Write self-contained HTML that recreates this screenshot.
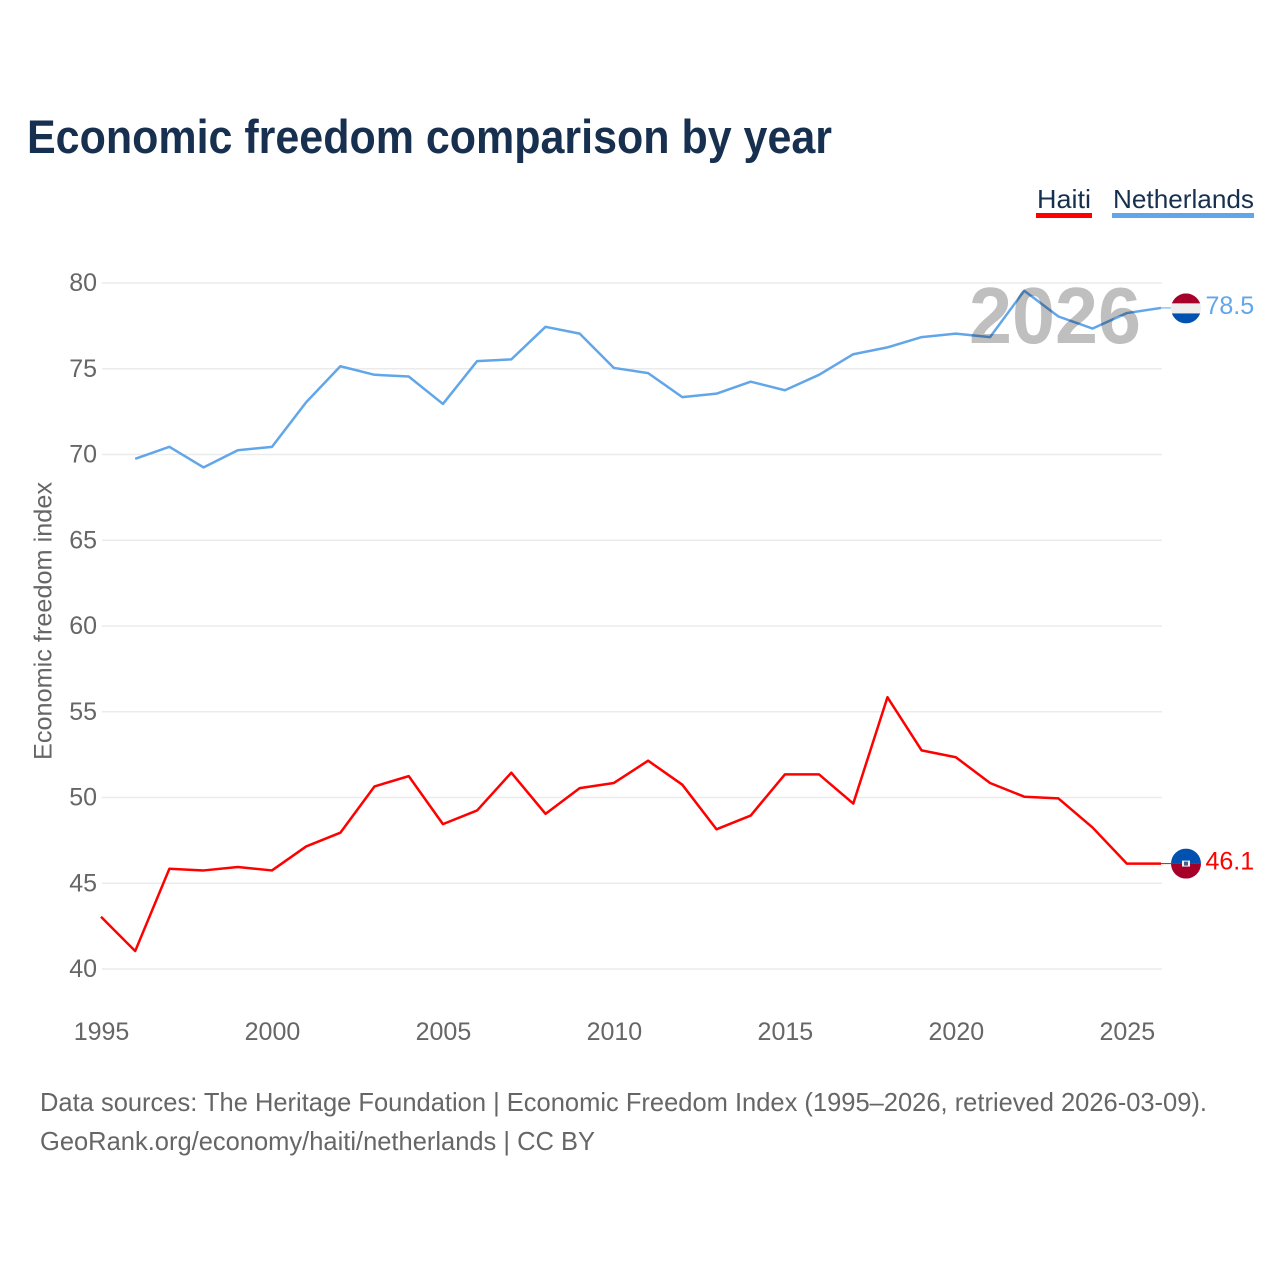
<!DOCTYPE html>
<html lang="en">
<head>
<meta charset="utf-8">
<title>Economic freedom comparison by year</title>
<style>
  html, body { margin: 0; padding: 0; background: #fff; }
  svg { display: block; font-family: "Liberation Sans", sans-serif; }
</style>
</head>
<body>
<svg id="chart" width="1280" height="1280" viewBox="0 0 1280 1280" xmlns="http://www.w3.org/2000/svg">
  <rect x="0" y="0" width="1280" height="1280" fill="#ffffff"/>
  <text x="27" y="153" font-size="47" font-weight="700" fill="#18304f" textLength="805" lengthAdjust="spacingAndGlyphs">Economic freedom comparison by year</text>

  <g>
    <g>
      <text x="1037" y="208" font-size="26" fill="#18304f" textLength="54" lengthAdjust="spacingAndGlyphs">Haiti</text>
      <rect x="1036" y="213" width="56" height="5" fill="#ff0000"/>
    </g>
    <g>
      <text x="1113" y="208" font-size="26" fill="#18304f" textLength="141" lengthAdjust="spacingAndGlyphs">Netherlands</text>
      <rect x="1112" y="213" width="142" height="5" fill="#62a6ea"/>
    </g>
  </g>

  <text transform="translate(51.5 621) rotate(-90)" text-anchor="middle" font-size="25" fill="#666666" textLength="278" lengthAdjust="spacingAndGlyphs">Economic freedom index</text>

  <g id="grid"></g>
  <g id="yticks"></g>
  <g id="xticks"></g>
  <g id="series" transform="translate(-1 -0.8)"></g>

  <text id="year" x="969" y="343" font-size="80" font-weight="700" fill="#000000" fill-opacity="0.25" textLength="172" lengthAdjust="spacingAndGlyphs">2026</text>

  <g id="ends"></g>

  <text x="40" y="1111" font-size="26" fill="#666666" textLength="1167" lengthAdjust="spacingAndGlyphs">Data sources: The Heritage Foundation | Economic Freedom Index (1995–2026, retrieved 2026-03-09).</text>
  <text x="40" y="1150" font-size="26" fill="#666666" textLength="555" lengthAdjust="spacingAndGlyphs">GeoRank.org/economy/haiti/netherlands | CC BY</text>
</svg>

<script>
const years = [1995,1996,1997,1998,1999,2000,2001,2002,2003,2004,2005,2006,2007,2008,2009,2010,2011,2012,2013,2014,2015,2016,2017,2018,2019,2020,2021,2022,2023,2024,2025,2026];
const haitiValues = [43.0,41.0,45.8,45.7,45.9,45.7,47.1,47.9,50.6,51.2,48.4,49.2,51.4,49.0,50.5,50.8,52.1,50.7,48.1,48.9,51.3,51.3,49.6,55.8,52.7,52.3,50.8,50.0,49.9,48.2,46.1,46.1];
const netherlandsValues = [null,69.7,70.4,69.2,70.2,70.4,73.0,75.1,74.6,74.5,72.9,75.4,75.5,77.4,77.0,75.0,74.7,73.3,73.5,74.2,73.7,74.6,75.8,76.2,76.8,77.0,76.8,79.5,78.0,77.3,78.2,78.5];
const yTickLabels = [40,45,50,55,60,65,70,75,80];
const xTickLabels = [1995,2000,2005,2010,2015,2020,2025];

const NS = 'http://www.w3.org/2000/svg';
const xAxis = function (year) { return 102 + (year - 1995) * (1162 - 102) / (2026 - 1995); };
const yAxis = function (value) { return 969 - (value - 40) * (969 - 283) / (80 - 40); };
const make = function (tag, parent, attrs) {
  const el = document.createElementNS(NS, tag);
  for (const k in attrs) el.setAttribute(k, attrs[k]);
  parent.appendChild(el);
  return el;
};

const grid = document.getElementById('grid');
const yticks = document.getElementById('yticks');
const xticks = document.getElementById('xticks');
const series = document.getElementById('series');
const ends = document.getElementById('ends');

yTickLabels.forEach(function (t) {
  const line = make('line', grid, { x1: 102, x2: 1162, y1: yAxis(t), y2: yAxis(t), stroke: '#ebebeb', 'stroke-width': 1.6 });
  
  
  const label = make('text', yticks, { x: 97, y: yAxis(t) + 8, 'text-anchor': 'end', 'font-size': 25, fill: '#666666' });
  label.textContent = t;
  
  
});

xTickLabels.forEach(function (t) {
  const label = make('text', xticks, { x: xAxis(t) - 0.5, y: 1040, 'text-anchor': 'middle', 'font-size': 25, fill: '#666666' });
  label.textContent = t;
  
  
});

const linePoints = function (values) {
  const pts = [];
  values.forEach(function (v, i) {
    if (v !== null) pts.push(xAxis(years[i]).toFixed(2) + ',' + yAxis(v).toFixed(2));
  });
  return pts.join(' ');
};

const haitiLine = make('polyline', series, { points: linePoints(haitiValues), fill: 'none', stroke: '#ff0000', 'stroke-width': 2.5, 'stroke-linejoin': 'round' });



const nlLine = make('polyline', series, { points: linePoints(netherlandsValues), fill: 'none', stroke: '#62a6ea', 'stroke-width': 2.5, 'stroke-linejoin': 'round' });



const lastYear = years[years.length - 1];
const hY = yAxis(haitiValues[haitiValues.length - 1]) - 0.8;
const nY = yAxis(netherlandsValues[netherlandsValues.length - 1]) - 0.8;
const endX = xAxis(lastYear) - 1;
const flagX = 1186;
const R = 15;

const defs = make('defs', ends, {});
const clipN = make('clipPath', defs, { id: 'clip-nl' });
make('circle', clipN, { cx: flagX, cy: nY + 0.5, r: R });
const clipH = make('clipPath', defs, { id: 'clip-ht' });
make('circle', clipH, { cx: flagX, cy: hY, r: R });

/* Netherlands end marker */
const nConn = make('line', ends, { x1: endX, x2: flagX - R, y1: nY, y2: nY, stroke: '#62a6ea', 'stroke-width': 1 });


const nFlag = make('g', ends, { 'clip-path': 'url(#clip-nl)' });


make('rect', nFlag, { x: flagX - R, y: nY - 14.5, width: 2 * R, height: 10, fill: '#a6002a' });
make('rect', nFlag, { x: flagX - R, y: nY - 4.5, width: 2 * R, height: 10, fill: '#eeeeee' });
make('rect', nFlag, { x: flagX - R, y: nY + 5.5, width: 2 * R, height: 10, fill: '#0051b0' });
const nVal = make('text', ends, { x: 1205.5, y: nY + 6, 'font-size': 25, fill: '#62a6ea' });
nVal.textContent = netherlandsValues[netherlandsValues.length - 1].toFixed(1);



/* Haiti end marker */
const hConn = make('line', ends, { x1: endX, x2: flagX - R, y1: hY, y2: hY, stroke: '#ff0000', 'stroke-width': 1 });


const hFlag = make('g', ends, { 'clip-path': 'url(#clip-ht)' });


make('rect', hFlag, { x: flagX - R, y: hY - R, width: 2 * R, height: R, fill: '#0051b0' });
make('rect', hFlag, { x: flagX - R, y: hY, width: 2 * R, height: R, fill: '#a6002a' });
make('rect', hFlag, { x: flagX - 4, y: hY - 3, width: 8, height: 6, fill: '#f2f2f2' });
make('rect', hFlag, { x: flagX - 2, y: hY - 2, width: 4, height: 4, fill: '#4a5f86' });
const hVal = make('text', ends, { x: 1205.5, y: hY + 6, 'font-size': 25, fill: '#ff0000' });
hVal.textContent = haitiValues[haitiValues.length - 1].toFixed(1);


</script>
</body>
</html>
